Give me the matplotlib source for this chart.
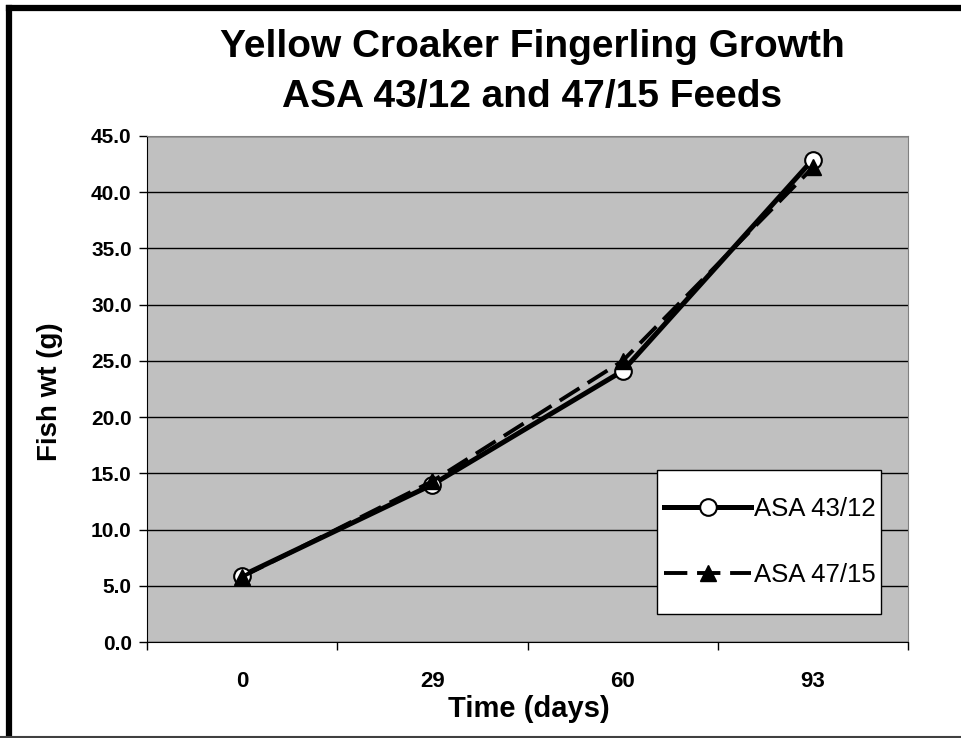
import matplotlib
matplotlib.use("Agg")
import matplotlib.pyplot as plt
from matplotlib.lines import Line2D
from matplotlib.patches import Rectangle
import numpy as np

categories = ["0", "29", "60", "93"]
asa_43_12 = [5.9, 14.0, 24.1, 42.9]
asa_47_15 = [5.8, 14.3, 25.0, 42.2]
y_ticks = [0, 5, 10, 15, 20, 25, 30, 35, 40, 45]

plt.rcParams['font.family'] = ['Liberation Sans', 'DejaVu Sans']

W, H = 962, 738
fig = plt.figure(figsize=(9.62, 7.38), dpi=100)
ax = fig.add_axes([147 / W, 1 - 642 / H, (908 - 147) / W, (642 - 136) / H])
ax.set_facecolor('#c0c0c0')

x = np.arange(len(categories)) + 0.5
ax.plot(x, asa_43_12, color='black', lw=3.6, marker='o', markersize=12,
        markerfacecolor='white', markeredgecolor='black', markeredgewidth=1.5,
        label='ASA 43/12', zorder=3)
ax.plot(x, asa_47_15, color='black', lw=2.8, dashes=(6, 2.5), marker='^', markersize=12,
        markerfacecolor='black', markeredgecolor='black',
        label='ASA 47/15', zorder=4)

ax.set_xlim(0, len(categories))
ax.set_ylim(0, 45)
ax.set_yticks(y_ticks)
ax.set_yticklabels([f"{v:.1f}" for v in y_ticks], fontsize=15, fontweight='bold')
ax.set_xticks(np.arange(len(categories) + 1))
ax.set_xticklabels([])
ax.set_xticks(x, minor=True)
ax.set_xticklabels(categories, minor=True, fontsize=16, fontweight='bold')
ax.tick_params(axis='x', which='minor', length=0, pad=21)
ax.tick_params(axis='x', which='major', length=6, width=1, direction='out')
ax.tick_params(axis='y', length=6, width=1, direction='out', pad=5)
ax.yaxis.grid(True, color='black', lw=1)
ax.set_axisbelow(True)
for s in ['top', 'right']:
    ax.spines[s].set_color('#808080')
for s in ['left', 'bottom']:
    ax.spines[s].set_color('black')

fig.text(529 / W, 1 - 709 / H, 'Time (days)', ha='center', va='center',
         fontsize=21, fontweight='bold')
fig.text(50 / W, 1 - 392 / H, 'Fish wt (g)', ha='center', va='center',
         rotation=90, fontsize=20, fontweight='bold')

# legend box
bx0, bx1 = (657 - 147) / 761, (881 - 147) / 761
by0, by1 = (642 - 614) / 506, (642 - 470) / 506
ax.add_patch(Rectangle((bx0, by0), bx1 - bx0, by1 - by0, transform=ax.transAxes,
                       facecolor='white', edgecolor='black', lw=1, zorder=5))
leg = ax.legend(loc='center', bbox_to_anchor=((bx0 + bx1) / 2 + 0.001, (by0 + by1) / 2),
                fontsize=18.5, frameon=False, borderpad=0, labelspacing=1.6,
                handlelength=3.4, handletextpad=0.1, borderaxespad=0)
leg.set_zorder(6)

fig.text(532 / W, 1 - 47 / H, 'Yellow Croaker Fingerling Growth', ha='center', va='center',
         fontsize=28, fontweight='bold')
fig.text(532 / W, 1 - 97 / H, 'ASA 43/12 and 47/15 Feeds', ha='center', va='center',
         fontsize=28, fontweight='bold')

# figure frame: thick left/top, thin bottom
fig.add_artist(Line2D([9 / W, 9 / W], [1 - 736 / H, 1 - 8 / H], transform=fig.transFigure,
                      color='black', lw=4.5, solid_capstyle='projecting'))
fig.add_artist(Line2D([9 / W, 1.0], [1 - 8 / H, 1 - 8 / H], transform=fig.transFigure,
                      color='black', lw=4.5, solid_capstyle='projecting'))
fig.add_artist(Line2D([0, 1.0], [1 - 736.5 / H, 1 - 736.5 / H], transform=fig.transFigure,
                      color='#404040', lw=1.5))

fig.savefig('out.png', dpi=100)
